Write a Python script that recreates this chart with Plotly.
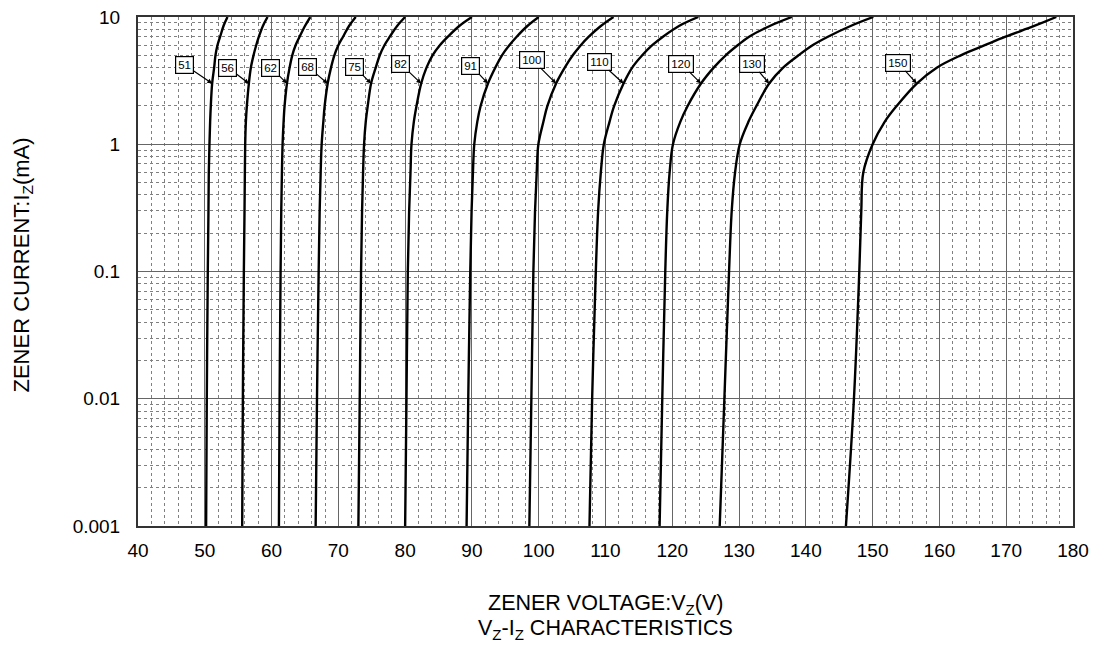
import math
import plotly.graph_objects as go

# ---- data ----
currents_mA = [0.001, 0.01, 0.1, 0.3, 0.6, 1, 1.5, 2, 3, 4, 5, 6, 7, 8.5, 10]
diode_labels = ["51", "56", "62", "68", "75", "82", "91", "100", "110", "120", "130", "150"]
v51 = [50.2, 50.3, 50.45, 50.55, 50.6, 50.7, 50.8, 50.9, 51.1, 51.4, 51.6, 51.9, 52.3, 52.8, 53.4]
v56 = [55.6, 55.7, 55.85, 55.95, 56.0, 56.05, 56.15, 56.3, 56.6, 56.9, 57.3, 57.7, 58.1, 58.7, 59.4]
v62 = [61.1, 61.2, 61.35, 61.45, 61.55, 61.65, 61.8, 61.95, 62.3, 62.7, 63.1, 63.6, 64.2, 65.0, 65.8]
v68 = [66.6, 66.8, 67.05, 67.2, 67.35, 67.5, 67.75, 67.95, 68.4, 68.9, 69.4, 70.0, 70.7, 71.6, 72.6]
v75 = [73.0, 73.2, 73.4, 73.55, 73.7, 73.85, 74.1, 74.4, 74.9, 75.6, 76.2, 76.9, 77.7, 78.8, 80.0]
v82 = [80.0, 80.2, 80.4, 80.6, 80.8, 80.95, 81.3, 81.7, 82.4, 83.2, 84.1, 85.2, 86.4, 88.1, 90.0]
v91 = [89.2, 89.45, 89.75, 89.95, 90.15, 90.35, 90.8, 91.3, 92.4, 93.5, 94.5, 95.6, 96.7, 98.3, 100.0]
v100 = [98.6, 98.9, 99.2, 99.45, 99.7, 99.95, 100.7, 101.3, 102.6, 103.9, 105.1, 106.3, 107.5, 109.3, 111.2]
v110 = [107.6, 108.0, 108.55, 108.9, 109.3, 109.75, 110.6, 111.3, 112.7, 114.0, 115.5, 117.0, 118.6, 121.0, 123.9]
v120 = [118.1, 118.5, 118.95, 119.25, 119.6, 120.1, 121.2, 122.3, 124.3, 126.2, 128.0, 129.8, 131.5, 134.6, 137.9]
v130 = [127.1, 127.8, 128.5, 128.9, 129.4, 130.1, 131.4, 132.6, 134.5, 136.6, 138.9, 141.0, 143.3, 146.7, 150.1]
v150 = [146.0, 147.2, 148.0, 148.3, 148.6, 150.0, 151.8, 153.6, 156.6, 159.6, 163.2, 166.8, 169.9, 174.2, 177.5]
series = [v51, v56, v62, v68, v75, v82, v91, v100, v110, v120, v130, v150]

x_ticks = [40, 50, 60, 70, 80, 90, 100, 110, 120, 130, 140, 150, 160, 170, 180]
y_tickvals = [0.001, 0.01, 0.1, 1, 10]
y_ticktext = ["0.001", "0.01", "0.1", "1", "10"]
label_current = 3  # mA, where the label arrows point

x_title = "ZENER VOLTAGE:V<sub>Z</sub>(V)"
x_title2 = "V<sub>Z</sub>-I<sub>Z</sub> CHARACTERISTICS"
y_title = "ZENER CURRENT:I<sub>Z</sub>(mA)"

# ---- style (label box offsets in px) ----
label_offsets = [(-28, -19), (-21, -16), (-16, -16), (-20, -17), (-17, -17), (-21, -20),
                 (-17, -18), (-24, -24), (-24, -22), (-20, -20), (-17, -20), (-19, -21)]

FONT = "Liberation Sans, Arial, sans-serif"
fig = go.Figure()

for lab, v in zip(diode_labels, series):
    fig.add_trace(go.Scatter(x=v, y=currents_mA, mode="lines",
                             line=dict(color="black", width=2.4, shape="spline", smoothing=1.0),
                             name=lab, showlegend=False, hoverinfo="skip"))

idx = currents_mA.index(label_current)
for (lab, v), (ax, ay) in zip(zip(diode_labels, series), label_offsets):
    fig.add_annotation(x=v[idx], y=math.log10(label_current),
                       xref="x", yref="y", text=lab, showarrow=True,
                       ax=ax, ay=ay, arrowhead=2, arrowsize=0.8, arrowwidth=1.2,
                       arrowcolor="black", bgcolor="white", bordercolor="black",
                       borderwidth=1.2, borderpad=2,
                       font=dict(family=FONT, size=11.5, color="black"))

# axis titles
fig.add_annotation(x=0.5, y=0, xref="paper", yref="paper", text=x_title, showarrow=False,
                   yanchor="middle", yshift=-78, font=dict(family=FONT, size=21.5, color="black"))
fig.add_annotation(x=0.5, y=0, xref="paper", yref="paper", text=x_title2, showarrow=False,
                   yanchor="middle", yshift=-103, font=dict(family=FONT, size=21.5, color="black"))
fig.add_annotation(x=0, y=0.5, xref="paper", yref="paper", text=y_title, showarrow=False,
                   textangle=-90, xanchor="center", xshift=-116, yshift=6,
                   font=dict(family=FONT, size=22, color="black"))

fig.update_layout(
    width=1101, height=648,
    margin=dict(l=130, r=36, t=9, b=130),
    paper_bgcolor="white", plot_bgcolor="white",
    font=dict(family=FONT, color="black"),
    showlegend=False,
)

fig.update_xaxes(
    range=[40, 180], tickvals=x_ticks, ticktext=[str(t) for t in x_ticks],
    tickfont=dict(size=19), ticks="", ticklabelstandoff=6, automargin=False,
    ticklabeloverflow="allow",
    showgrid=True, gridcolor="#666666", gridwidth=1.4,
    minor=dict(dtick=2, tick0=40, showgrid=True, gridcolor="#808080", griddash="dot", gridwidth=1),
    showline=True, linecolor="#333", linewidth=2, mirror=True, zeroline=False,
)
fig.update_yaxes(
    type="log", range=[-3, 1], tickvals=y_tickvals, ticktext=y_ticktext,
    tickfont=dict(size=19), ticks="", ticklabelstandoff=12, automargin=False,
    ticklabeloverflow="allow",
    showgrid=True, gridcolor="#666666", gridwidth=1.4,
    minor=dict(dtick="D1", showgrid=True, gridcolor="#808080", griddash="dot", gridwidth=1),
    showline=True, linecolor="#333", linewidth=2, mirror=True, zeroline=False,
)

fig.write_html("out.html")
